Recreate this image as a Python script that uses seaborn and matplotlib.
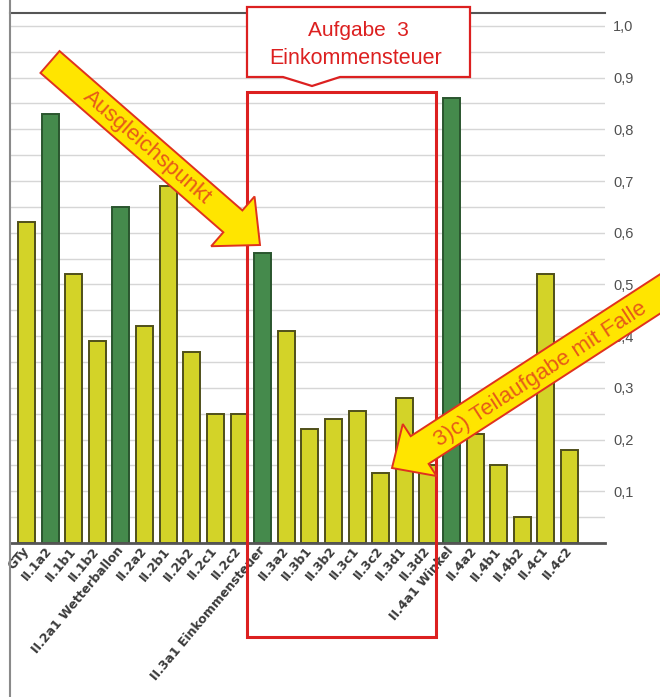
import numpy as np
import pandas as pd
import matplotlib
matplotlib.use("Agg")
import matplotlib.pyplot as plt
from matplotlib.patches import Polygon
from matplotlib.lines import Line2D
import seaborn as sns

# Solution rates per task item
tasks = [
    "GTy", "II.1a2", "II.1b1", "II.1b2", "II.2a1 Wetterballon", "II.2a2",
    "II.2b1", "II.2b2", "II.2c1", "II.2c2", "II.3a1 Einkommensteuer", "II.3a2",
    "II.3b1", "II.3b2", "II.3c1", "II.3c2", "II.3d1", "II.3d2",
    "II.4a1 Winkel", "II.4a2", "II.4b1", "II.4b2", "II.4c1", "II.4c2",
]
solution_rate = [
    0.62, 0.83, 0.52, 0.39, 0.65, 0.42,
    0.69, 0.37, 0.25, 0.25, 0.56, 0.41,
    0.22, 0.24, 0.255, 0.135, 0.28, 0.15,
    0.86, 0.21, 0.15, 0.05, 0.52, 0.18,
]
# First item of each task is highlighted in green
is_task_opener = [
    False, True, False, False, True, False,
    False, False, False, False, True, False,
    False, False, False, False, False, False,
    True, False, False, False, False, False,
]
y_ticks = [0.1, 0.2, 0.3, 0.4, 0.5, 0.6, 0.7, 0.8, 0.9, 1.0]
y_tick_labels = ["0,1", "0,2", "0,3", "0,4", "0,5", "0,6", "0,7", "0,8", "0,9", "1,0"]

callout_title = "Aufgabe  3\nEinkommensteuer"
arrow_left_text = "Ausgleichspunkt"
arrow_right_text = "3)c) Teilaufgabe mit Falle"

YELLOW, YELLOW_EDGE = "#d3d328", "#4f4f1a"
GREEN, GREEN_EDGE = "#458a4c", "#2a552e"
RED = "#dc2020"
ARROW_FILL = "#ffe500"
ARROW_TEXT = "#e65a18"

W, H = 660, 697
sns.set_style("white")
plt.rcParams["font.family"] = ["Liberation Sans", "DejaVu Sans"]

fig = plt.figure(figsize=(W / 100, H / 100), dpi=100)
fig.patch.set_facecolor("white")


def px(x, y):
    """Pixel position (from top-left) to figure fraction."""
    return (x / W, 1 - y / H)


ax = fig.add_axes([10 / W, 1 - 543 / H, 595 / W, 530 / H])

df = pd.DataFrame({"task": tasks, "rate": solution_rate})
colors = [GREEN if g else YELLOW for g in is_task_opener]
sns.barplot(data=df, x="task", y="rate", hue="task", palette=colors,
            saturation=1, legend=False, width=0.72, ax=ax, zorder=2)
for patch, g in zip(ax.patches, is_task_opener):
    patch.set_edgecolor(GREEN_EDGE if g else YELLOW_EDGE)
    patch.set_linewidth(1.4)

ax.set_xlim(-0.7, 24.5)
ax.set_ylim(0, 1.025)
ax.set_xlabel("")
ax.set_ylabel("")

# right-hand value axis with a grid line every 0.05
ax.yaxis.tick_right()
ax.set_yticks(y_ticks)
ax.set_yticklabels(y_tick_labels, fontsize=10.5, color="#505050")
ax.set_yticks(np.arange(0.05, 1.0, 0.1), minor=True)
ax.tick_params(axis="y", which="both", length=0, pad=6)
ax.grid(axis="y", which="both", color="#d6d6d6", linewidth=1.0, zorder=0)
ax.set_axisbelow(True)

ax.set_xticks(range(len(tasks)))
ax.set_xticklabels(tasks, rotation=50, ha="right", va="center",
                   rotation_mode="anchor", fontsize=9, fontweight="bold",
                   color="#3a3a3a", family=["DejaVu Sans"])
ax.tick_params(axis="x", length=0, pad=4)

ax.spines["right"].set_visible(False)
ax.spines["left"].set_visible(False)
ax.spines["top"].set_color("#555555")
ax.spines["top"].set_linewidth(1.5)
ax.spines["bottom"].set_color("#555555")
ax.spines["bottom"].set_linewidth(2.0)

# left border of the chart area runs the full height
fig.add_artist(Line2D([10 / W, 10 / W], [0, 1], color="#8a8a8a", lw=1.5,
                      transform=fig.transFigure))

# frame around task 3
box = [px(247, 92), px(436, 92), px(436, 637), px(247, 637)]
fig.add_artist(Polygon(box, closed=True, fill=False, edgecolor=RED, lw=2.2,
                       transform=fig.transFigure, zorder=5))

# callout with pointer
callout = [px(247, 7), px(470, 7), px(470, 77), px(340, 77), px(312, 86),
           px(283, 77), px(247, 77)]
fig.add_artist(Polygon(callout, closed=True, facecolor="white", edgecolor=RED,
                       lw=1.6, transform=fig.transFigure, zorder=5))
fig.text(*px(358, 30), callout_title.split("\n")[0], ha="center", va="center",
         fontsize=15, color=RED, zorder=6)
fig.text(*px(356, 58), callout_title.split("\n")[1], ha="center", va="center",
         fontsize=15.5, color=RED, zorder=6)


def block_arrow(tail, tip, shaft_w, head_w, head_l):
    t = np.array(tail, float)
    p = np.array(tip, float)
    d = (p - t) / np.linalg.norm(p - t)
    n = np.array([-d[1], d[0]])
    b = p - d * head_l
    pts = [t + n * shaft_w / 2, b + n * shaft_w / 2, b + n * head_w / 2, p,
           b - n * head_w / 2, b - n * shaft_w / 2, t - n * shaft_w / 2]
    return [px(*q) for q in pts]


for tail, tip, sw, hw, hl in [((50, 62), (260, 245), 29, 66, 36),
                              ((700, 268), (392, 468), 33, 62, 33)]:
    fig.add_artist(Polygon(block_arrow(tail, tip, sw, hw, hl), closed=True,
                           facecolor=ARROW_FILL, edgecolor="#e0321e", lw=1.4,
                           transform=fig.transFigure, zorder=7))

fig.text(*px(147, 147), arrow_left_text, rotation=-41, rotation_mode="anchor",
         ha="center", va="center", fontsize=16, color=ARROW_TEXT, zorder=8)
fig.text(*px(541, 374), arrow_right_text, rotation=33, rotation_mode="anchor",
         ha="center", va="center", fontsize=16, color=ARROW_TEXT, zorder=8)

fig.savefig("out.png", dpi=100, facecolor="white")
